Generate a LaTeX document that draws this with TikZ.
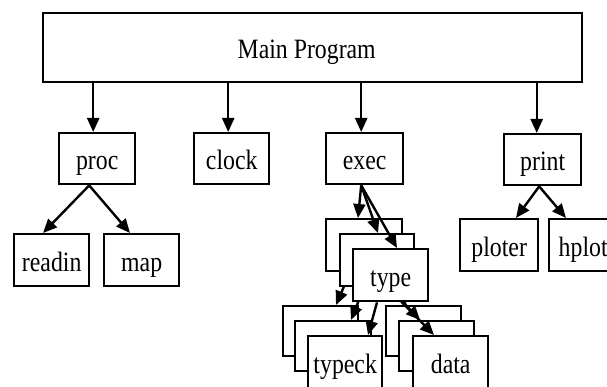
\documentclass[tikz,border=0pt]{standalone}
\usepackage{fontspec}
\setmainfont{Liberation Serif}[FakeStretch=0.85]
\usetikzlibrary{arrows.meta}
\begin{document}
\begin{tikzpicture}[x=1pt,y=-1pt,
  box/.style={draw,line width=2.4pt,fill=white,inner sep=0pt,anchor=north west,
    minimum width=75pt,minimum height=52pt,text height=22pt,text depth=0pt,
    font=\fontsize{28}{30}\selectfont},
  arr/.style={line width=2.4pt,-{Triangle[length=14pt,width=12pt]}}]
\useasboundingbox (0,0) rectangle (607,387);
\clip (0,0) rectangle (607,387);
% top level
\node[box,minimum width=539pt,minimum height=69pt] (main) at (42,12) {Main Program\hspace*{12pt}};
\node[box,minimum width=76pt,minimum height=51pt] (proc) at (58,132) {proc};
\node[box,minimum width=75pt,minimum height=51pt] (clock) at (193,132) {clock};
\node[box,minimum width=77pt,minimum height=51pt] (exec) at (325,132) {exec};
\node[box,minimum width=77pt,minimum height=51pt] (print) at (503,133) {print};
\node[box] (readin) at (13,233) {readin};
\node[box] (map) at (103,233) {map};
\node[box,minimum width=78pt] (ploter) at (459,218) {ploter};
\node[box,minimum width=68pt] (hplot) at (548,218) {hplot};
\draw[arr] ([xshift=-4pt]proc.north |- main.south) -- ([xshift=-4pt]proc.north);
\draw[arr] ([xshift=-3.5pt]clock.north |- main.south) -- ([xshift=-3.5pt]clock.north);
\draw[arr] ([xshift=-3.5pt]exec.north |- main.south) -- ([xshift=-3.5pt]exec.north);
\draw[arr] ([xshift=-6pt]print.north |- main.south) -- ([xshift=-6pt]print.north);
\draw[arr] ([xshift=-8pt]proc.south) -- ([xshift=30pt]readin.north west);
\draw[arr] ([xshift=-8pt]proc.south) -- ([xshift=27pt]map.north west);
\draw[arr] ([xshift=-3.5pt]print.south) -- ([xshift=57pt]ploter.north west);
\draw[arr] ([xshift=-3.5pt]print.south) -- ([xshift=18pt]hplot.north west);
% layer 1
\node[box,minimum width=76pt] (T1) at (325,218) {};
\node[box,minimum height=50pt] (K1) at (282,305) {};
\node[box,minimum height=50pt] (D1) at (385,305) {};
\draw[arr] ([xshift=-3.5pt]exec.south) -- ([xshift=33pt]T1.north west);
\draw[arr] ([xshift=25pt]T1.south west) -- ([xshift=54pt]K1.north west);
\draw[arr] ([xshift=50pt]T1.south west) -- ([xshift=22pt]D1.north west);
% layer 2
\node[box,minimum width=74pt] (T2) at (339,233) {};
\node[box,minimum width=76pt,minimum height=50pt] (K2) at (294,320) {};
\node[box,minimum height=50pt] (D2) at (398,320) {};
\draw[arr] ([xshift=-3.5pt]exec.south) -- ([xshift=39pt]T2.north west);
\draw[arr] ([xshift=25pt]T2.south west) -- ([xshift=57pt]K2.north west);
\draw[arr] ([xshift=50pt]T2.south west) -- ([xshift=22pt]D2.north west);
% layer 3
\node[box] (T3) at (352,248) {type};
\node[box,minimum width=74pt] (K3) at (307,335) {typeck};
\node[box] (D3) at (412,335) {data};
\draw[arr] ([xshift=-3.5pt]exec.south) -- ([xshift=45pt]T3.north west);
\draw[arr] ([xshift=25pt]T3.south west) -- ([xshift=61pt]K3.north west);
\draw[arr] ([xshift=50pt]T3.south west) -- ([xshift=22pt]D3.north west);
\end{tikzpicture}
\end{document}
